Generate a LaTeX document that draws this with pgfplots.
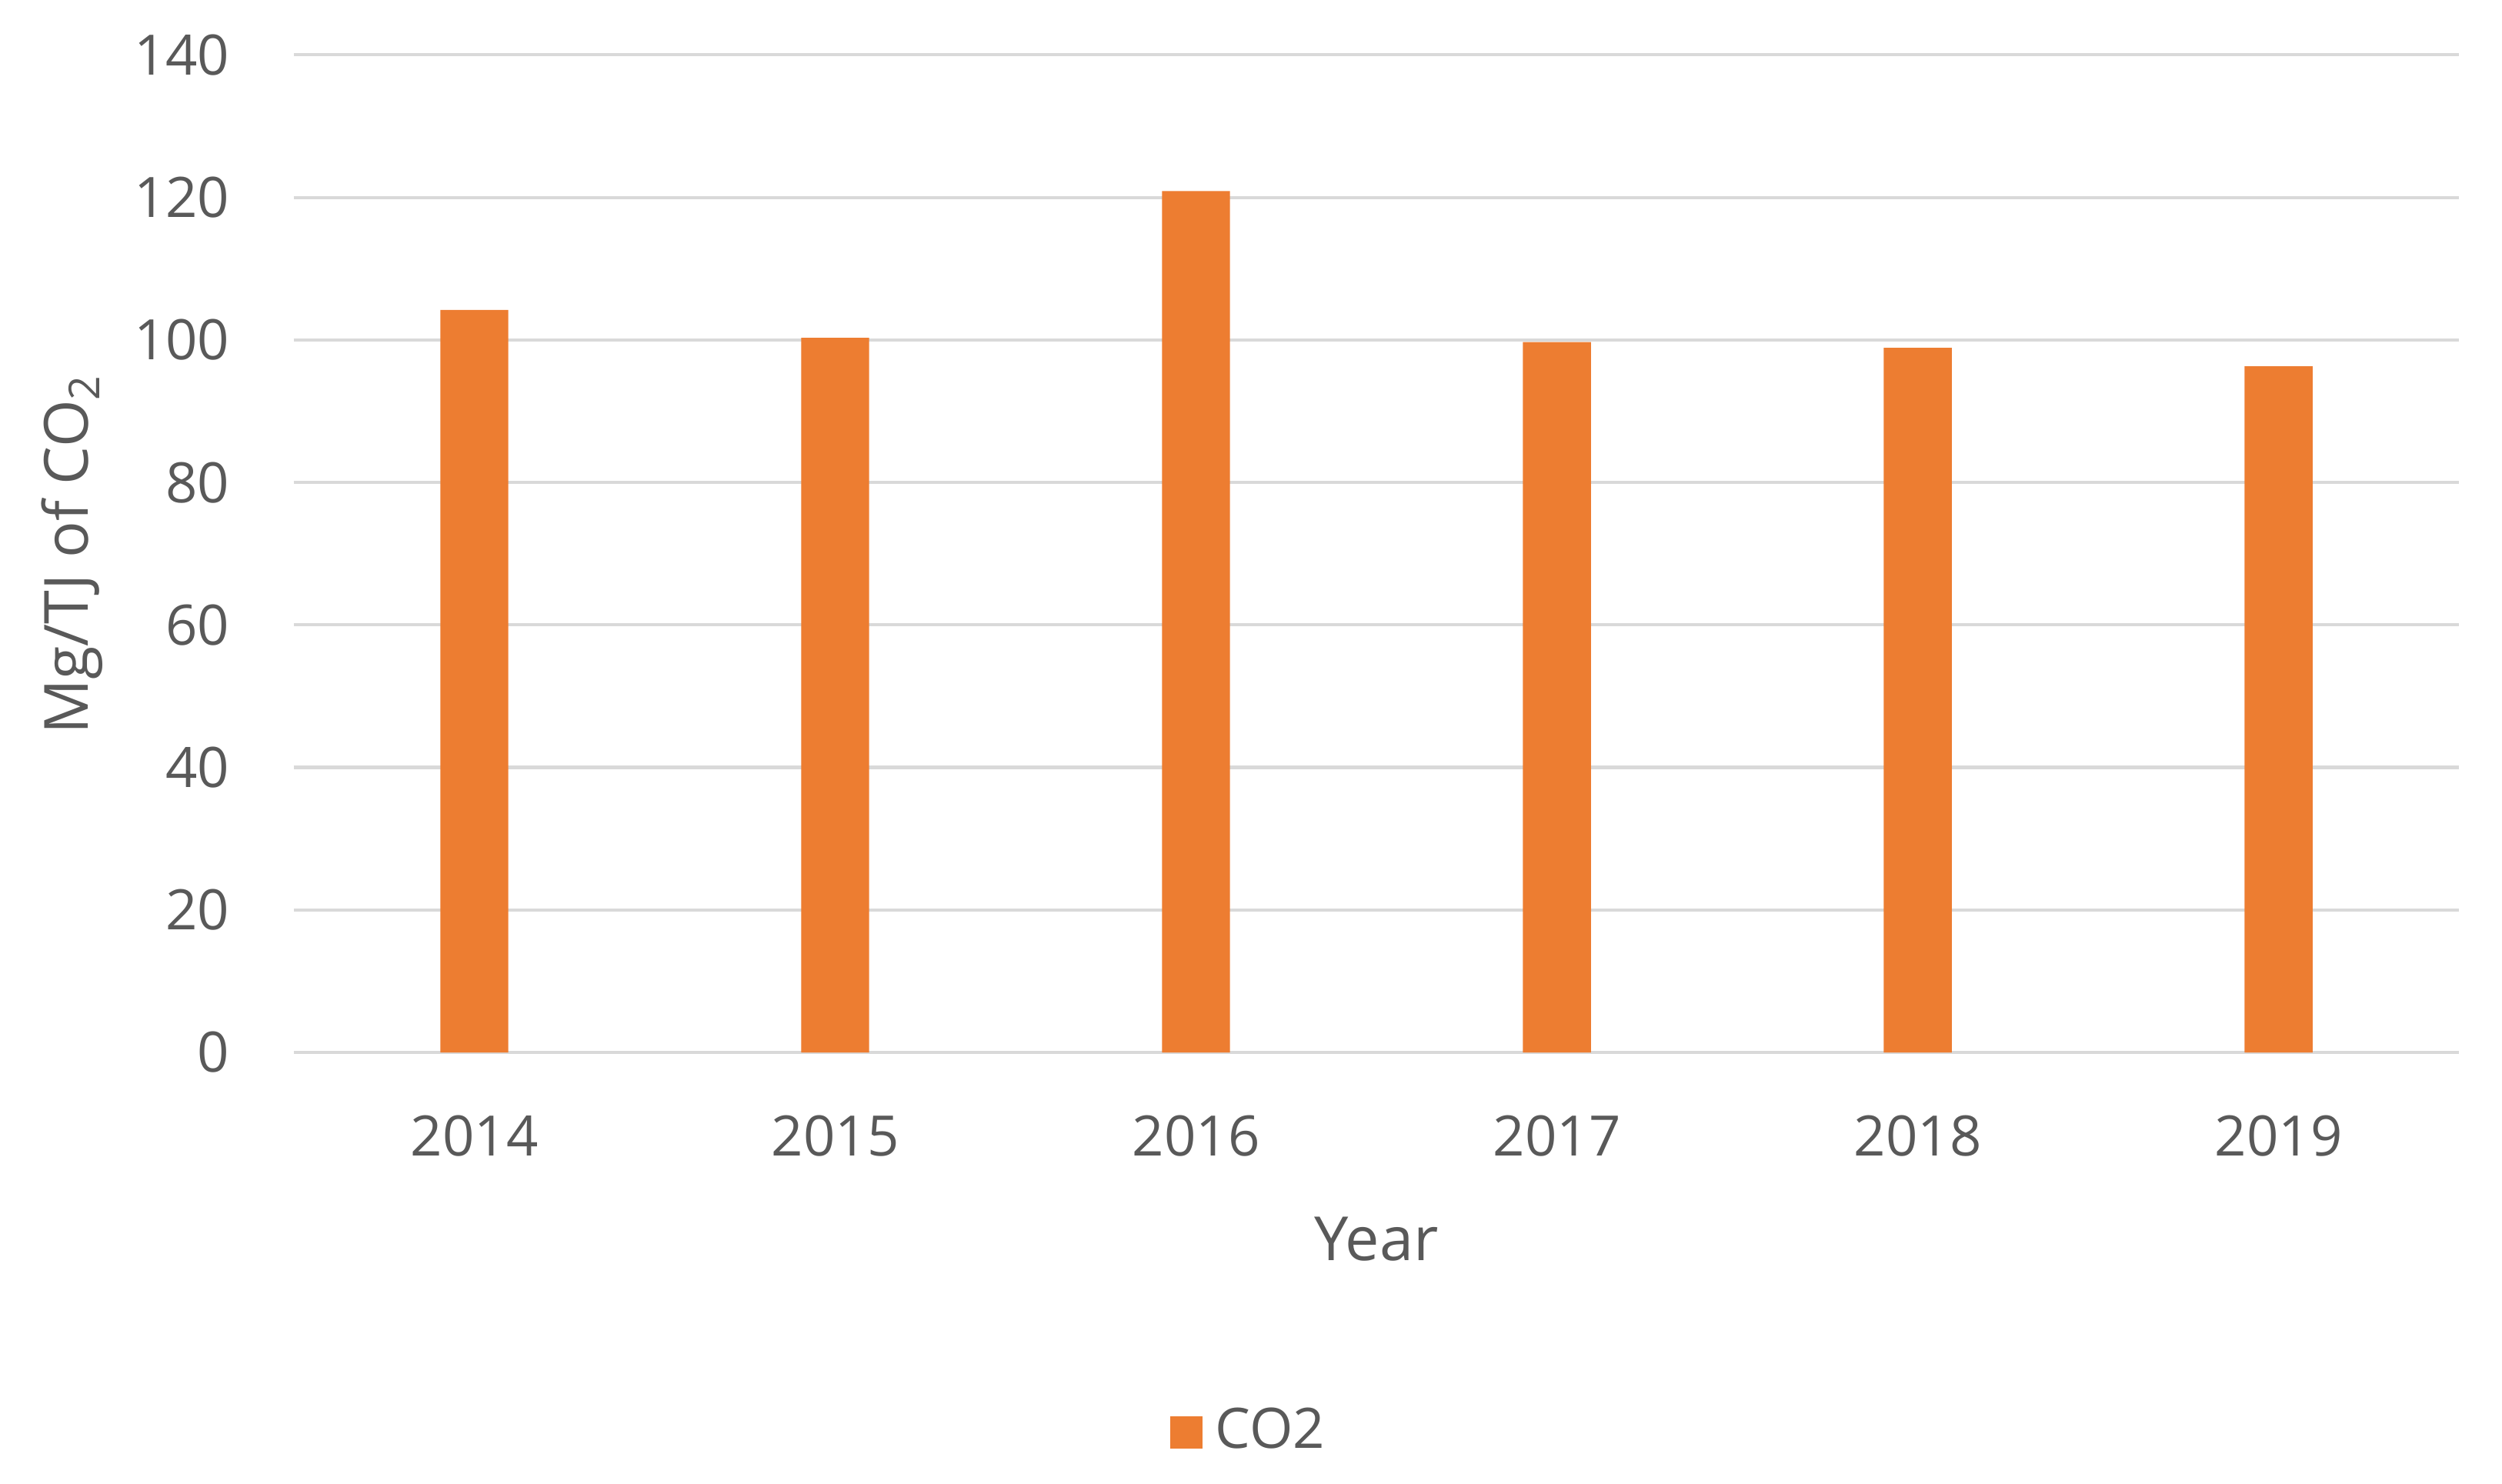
\documentclass[border=0pt]{standalone}
\usepackage{fontspec}
\setmainfont{Open Sans}
\usepackage{pgfplots}
\pgfplotsset{compat=1.18}
\definecolor{barorange}{HTML}{ED7D31}
\definecolor{gridgray}{HTML}{D9D9D9}
\definecolor{textgray}{HTML}{595959}
\begin{document}
\begin{tikzpicture}
\useasboundingbox (-45.84pt,-67.2pt) rectangle (344.4pt,164.16pt);
\begin{axis}[
  scale only axis, width=337.7pt, height=155.6pt,
  xmin=-0.5, xmax=5.5, ymin=0, ymax=140,
  ytick={0,20,...,140},
  xtick={0,1,2,3,4,5},
  xticklabels={2014,2015,2016,2017,2018,2019},
  major tick length=0pt,
  ymajorgrids,
  grid style={gridgray, line width=0.5pt},
  axis line style={draw=none},
  /pgf/number format/assume math mode=true,
  tick label style={font=\fontsize{8.7}{10}\selectfont, text=textgray},
  yticklabel style={xshift=-6.5pt},
  xticklabel style={anchor=base, yshift=-16.1pt},
  xlabel={Year},
  ylabel={Mg/TJ of CO\textsubscript{2}},
  every axis y label/.style={at={(axis description cs:0,0.5)}, xshift=-34.56pt, rotate=90, anchor=center,
    font=\fontsize{9.5}{11}\selectfont, text=textgray},
  every axis x label/.style={at={(axis description cs:0.5,0)}, yshift=-32.4pt, anchor=base,
    font=\fontsize{9.5}{11}\selectfont, text=textgray},
  ybar, bar width=10.6pt,
  legend style={at={(axis description cs:0.4435,0)}, yshift=-59.3pt, anchor=center, draw=none,
    font=\fontsize{8.7}{10}\selectfont, text=textgray},
  legend image code/.code={\fill[#1] (0pt,-2.5pt) rectangle (5pt,2.5pt);},
]
\addplot[fill=barorange, draw=none] coordinates {(0,104.2) (1,100.3) (2,120.9) (3,99.7) (4,98.9) (5,96.3)};
\addlegendentry{CO2}
\end{axis}
\end{tikzpicture}
\end{document}
